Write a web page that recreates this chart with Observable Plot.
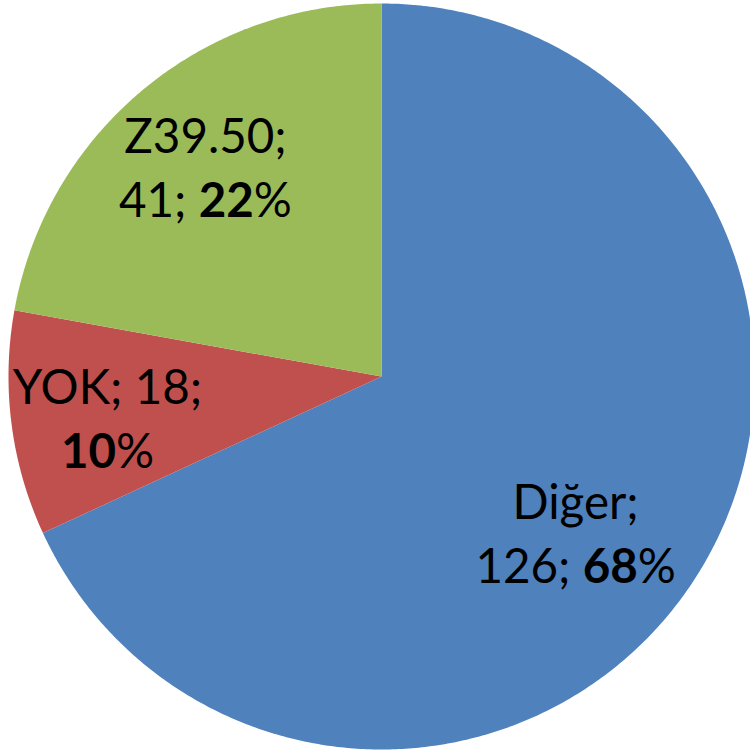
<!DOCTYPE html>
<html><head><meta charset="utf-8">
<script src="https://cdn.jsdelivr.net/npm/d3@7"></script>
<script src="https://cdn.jsdelivr.net/npm/@observablehq/plot@0.6"></script>
<style>html,body{margin:0;padding:0;background:#fff;overflow:hidden}</style>
</head><body><div id="chart"></div>
<script>
// ---- data ----
const categories = ["Diğer", "YOK", "Z39.50"];
const values = [126, 18, 41];
const colors = ["#4F81BD", "#C0504D", "#9BBB59"];
const firstLineParts = [1, 2, 1]; // how many label parts go on the first line

// ---- layout ----
const W = 750, H = 753, CX = 381, CY = 376, R = 373;
const labelRadius = [0.664, 0.742, 0.739];
const labelNudgeDeg = [5.8, -0.8, 0.2];

const total = d3.sum(values);
const rows = categories.map((c, i) => ({category: c, value: values[i], pct: Math.round(values[i] / total * 100)}));
const arcs = d3.pie().sort(null).value(d => d.value)(rows);

const pts = [];
arcs.forEach(a => {
  const c = a.data.category;
  pts.push({category: c, x: 0, y: 0});
  const n = Math.max(2, Math.ceil((a.endAngle - a.startAngle) / (Math.PI / 360)));
  for (let k = 0; k <= n; k++) {
    const t = a.startAngle + (a.endAngle - a.startAngle) * k / n;
    pts.push({category: c, x: Math.sin(t), y: Math.cos(t)});
  }
});

const labels = arcs.map((a, i) => {
  const t = (a.startAngle + a.endAngle) / 2 + labelNudgeDeg[i] * Math.PI / 180;
  const parts = [a.data.category, String(a.data.value), a.data.pct + "%"];
  const k = firstLineParts[i];
  const text = parts.slice(0, k).join("; ") + ";\n" + parts.slice(k).join("; ");
  return {x: labelRadius[i] * Math.sin(t), y: labelRadius[i] * Math.cos(t), text};
});

const chart = Plot.plot({
  width: W, height: H, margin: 0,
  x: {domain: [-1, 1], range: [CX - R, CX + R], axis: null},
  y: {domain: [-1, 1], range: [CY + R, CY - R], axis: null},
  color: {domain: categories, range: colors},
  style: {fontFamily: "Lato, 'Open Sans', sans-serif", background: "white", overflow: "hidden"},
  marks: [
    Plot.line(pts, {x: "x", y: "y", z: "category", fill: "category", stroke: "none", curve: "linear-closed"}),
    Plot.text(labels, {
      x: "x", y: "y", text: "text", fontSize: 47.5, lineHeight: 1.35, fill: "black",
      lineAnchor: "middle", textAnchor: "middle",
      render(index, scales, vals, dims, context, next) {
        const g = next(index, scales, vals, dims, context);
        d3.select(g).selectAll("text").style("white-space", "pre");
        d3.select(g).selectAll("tspan").each(function() {
          const s = this.textContent;
          const m = s.match(/^(.*?)(\d+)%$/);
          if (m) {
            const el = d3.select(this);
            el.text(null);
            if (m[1]) el.append("tspan").text(m[1]);
            el.append("tspan").attr("font-weight", "bold").text(m[2]);
            el.append("tspan").text("%");
          }
        });
        return g;
      }
    })
  ]
});
document.getElementById("chart").appendChild(chart);
</script>
</body></html>
